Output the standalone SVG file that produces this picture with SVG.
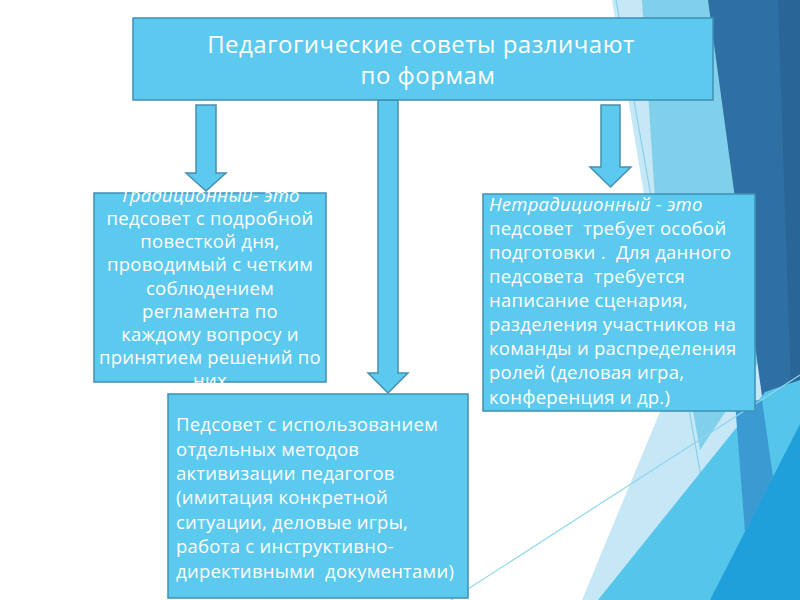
<svg xmlns="http://www.w3.org/2000/svg" width="800" height="600" viewBox="0 0 800 600">
<style>
.box{fill:#5CC9EE;stroke:#3F91B4;stroke-width:1.5}
.arrow{fill:#5CC9EE;stroke:#4590AE;stroke-width:1.5}
.t{font-family:"Open Sans","Noto Sans","DejaVu Sans",sans-serif;fill:#FFFFFF;font-size:18.5px;letter-spacing:0.25px}
.title{font-size:24px;letter-spacing:0.5px;text-anchor:middle}
.c{text-anchor:middle}
.i{font-style:italic}
</style>
<defs>
<clipPath id="clipL"><rect x="90" y="191" width="240" height="194"/></clipPath>
</defs>
<rect width="800" height="600" fill="#FFFFFF"/>
<g id="background">
<polygon points="612,0 674,378 582,600 800,600 800,0" fill="#C6E7F5"/>
<polygon points="642,0 800,0 800,300 700,450 655,200" fill="#80D0EC"/>
<line x1="616" y1="0" x2="723" y2="600" stroke="#86D0EC" stroke-width="1.2"/>
<polygon points="708,0 800,0 800,424 773,477" fill="#2E70A3"/>
<polygon points="778,0 800,0 800,424 792,420" fill="#2A6598"/>
<polygon points="765,392 800,380 800,600 598,600" fill="#55C5EA"/>
<polygon points="735,402 762,400 773,477 745,532" fill="#3C9AD3"/>
<polygon points="800,424 800,600 710,600" fill="#1FA0DA"/>
<line x1="440" y1="607" x2="800" y2="375" stroke="#8FD5EF" stroke-width="1.2"/>
</g>
<g id="connectors">
<polygon class="arrow" points="196,105 216,105 216,173 226,173 206,191 186,173 196,173"/>
<polygon class="arrow" points="378,100 398,100 398,373 408,373 388,393 368,373 378,373"/>
<polygon class="arrow" points="601,105 620,105 620,167 631,167 610.5,187 590,167 601,167"/>
</g>
<g id="title">
<rect class="box" x="133" y="18" width="580" height="82"/>
<text class="t title" x="421" y="53">Педагогические советы различают</text>
<text class="t title" x="428" y="84">по формам</text>
</g>
<g id="traditional">
<rect class="box" x="94" y="193" width="232" height="189"/>
<g clip-path="url(#clipL)">
<text class="t c i" x="210" y="202">Традиционный- это</text>
<text class="t c" x="210" y="225">педсовет с подробной</text>
<text class="t c" x="210" y="248.2">повесткой дня,</text>
<text class="t c" x="210" y="271.4">проводимый с четким</text>
<text class="t c" x="210" y="294.6">соблюдением</text>
<text class="t c" x="210" y="317.8">регламента по</text>
<text class="t c" x="210" y="341">каждому вопросу и</text>
<text class="t c" x="210" y="364.2">принятием решений по</text>
<text class="t c" x="210" y="387.4">них</text>
</g>
</g>
<g id="nontraditional">
<rect class="box" x="483" y="194" width="272" height="217"/>
<text class="t i" x="489" y="211">Нетрадиционный - это</text>
<text class="t" x="489" y="235" xml:space="preserve">педсовет  требует особой</text>
<text class="t" x="489" y="259" xml:space="preserve">подготовки .  Для данного</text>
<text class="t" x="489" y="283" xml:space="preserve">педсовета  требуется</text>
<text class="t" x="489" y="307">написание сценария,</text>
<text class="t" x="489" y="331">разделения участников на</text>
<text class="t" x="489" y="355">команды и распределения</text>
<text class="t" x="489" y="379">ролей (деловая игра,</text>
<text class="t" x="489" y="404">конференция и др.)</text>
</g>
<g id="methods">
<rect class="box" x="168" y="394" width="300" height="204"/>
<text class="t" x="176" y="431">Педсовет с использованием</text>
<text class="t" x="176" y="455.5">отдельных методов</text>
<text class="t" x="176" y="480">активизации педагогов</text>
<text class="t" x="176" y="504">(имитация конкретной</text>
<text class="t" x="176" y="528.5">ситуации, деловые игры,</text>
<text class="t" x="176" y="553">работа с инструктивно-</text>
<text class="t" x="176" y="577.5" xml:space="preserve">директивными  документами)</text>
</g>
</svg>
